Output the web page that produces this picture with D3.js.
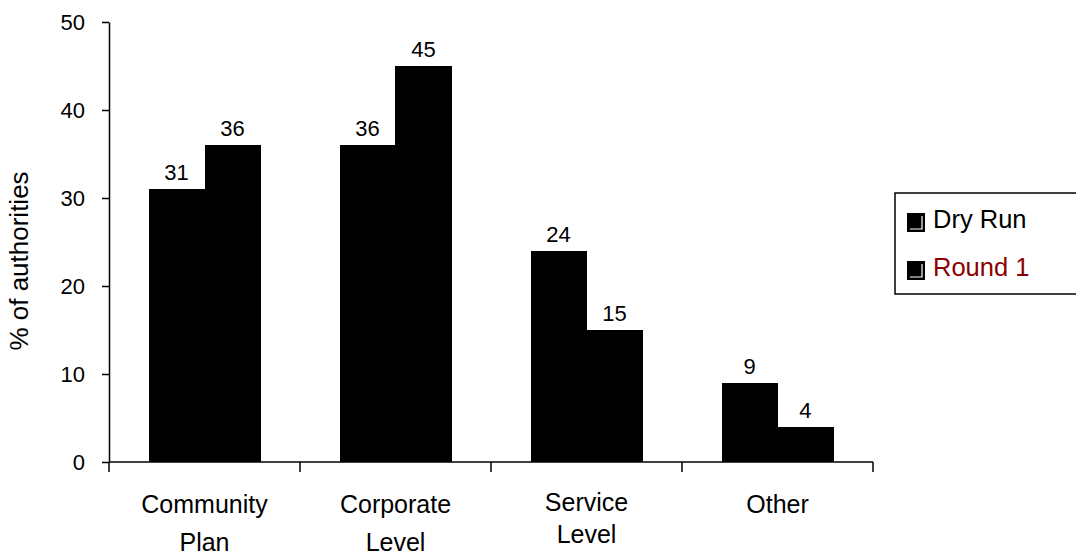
<!DOCTYPE html>
<html>
<head>
<meta charset="utf-8">
<script src="https://cdn.jsdelivr.net/npm/d3@7"></script>
<style>
  html, body { margin: 0; padding: 0; background: #fff; }
  svg { display: block; font-family: "Liberation Sans", Arial, sans-serif; }
</style>
</head>
<body>
<svg id="chart" width="1076" height="556"></svg>
<script>
// Category labels, one entry per line of text
const categories = ["Community Plan", "Corporate Level", "Service Level", "Other"];
const categoryLines = [["Community", "Plan"], ["Corporate", "Level"], ["Service", "Level"], ["Other"]];
const seriesNames = ["Dry Run", "Round 1"];
const dryRun = [31, 36, 24, 9];
const round1 = [36, 45, 15, 4];
const yTicks = [0, 10, 20, 30, 40, 50];

const svg = d3.select("#chart");
const plotLeft = 109, plotRight = 873, plotTop = 22, plotBottom = 462;

const x = d3.scaleBand().domain(categories).range([plotLeft, plotRight])
  .paddingInner(0.414).paddingOuter(0.207);
const xs = d3.scaleBand().domain(seriesNames).range([0, x.bandwidth()]).padding(0);
const y = d3.scaleLinear().domain([0, 50]).range([plotBottom, plotTop]);

const rows = categories.map((c, i) => ({ cat: c, vals: [dryRun[i], round1[i]] }));

// Bars
const groups = svg.append("g").selectAll("g").data(rows).join("g")
  .attr("transform", d => `translate(${x(d.cat)},0)`);

groups.selectAll("rect")
  .data(d => d.vals.map((v, j) => ({ name: seriesNames[j], v })))
  .join("rect")
  .attr("x", d => xs(d.name))
  .attr("y", d => y(d.v))
  .attr("width", xs.bandwidth() + 0.5)
  .attr("height", d => y(0) - y(d.v))
  .attr("fill", "#000")
  .attr("shape-rendering", "crispEdges");

// Value labels above each bar
groups.selectAll("text.val")
  .data(d => d.vals.map((v, j) => ({ name: seriesNames[j], v })))
  .join("text")
  .attr("class", "val")
  .attr("x", d => xs(d.name) + xs.bandwidth() / 2)
  .attr("y", d => y(d.v) - 9)
  .attr("text-anchor", "middle")
  .attr("font-size", 22)
  .attr("fill", "#000")
  .text(d => d.v);

// Y axis
const yAxis = d3.axisLeft(y).tickValues(yTicks).tickSize(7).tickSizeOuter(0).tickPadding(17);
const gy = svg.append("g").attr("transform", `translate(${plotLeft},0)`).call(yAxis);
gy.select(".domain").attr("stroke", "#000").attr("stroke-width", 1.5);
gy.selectAll(".tick line").attr("stroke", "#000").attr("stroke-width", 1.5);
gy.selectAll(".tick text").attr("font-size", 22).attr("fill", "#000")
  .attr("font-family", "Liberation Sans, Arial, sans-serif");

// X axis: baseline with ticks between categories
const step = x.step();
const boundaries = d3.range(categories.length + 1).map(i => plotLeft + i * step);
svg.append("line")
  .attr("x1", plotLeft).attr("x2", plotRight).attr("y1", plotBottom).attr("y2", plotBottom)
  .attr("stroke", "#000").attr("stroke-width", 1.5);
svg.append("g").selectAll("line").data(boundaries).join("line")
  .attr("x1", d => d).attr("x2", d => d)
  .attr("y1", plotBottom).attr("y2", plotBottom + 10)
  .attr("stroke", "#000").attr("stroke-width", 1.5);

// Category labels
const lineGap = [38, 38, 32, 38];
const cl = svg.append("g").selectAll("text").data(categories).join("text")
  .attr("text-anchor", "middle")
  .attr("font-size", 25)
  .attr("fill", "#000")
  .attr("transform", d => `translate(${x(d) + x.bandwidth() / 2},513)`);
cl.each(function (d, i) {
  d3.select(this).selectAll("tspan").data(categoryLines[i]).join("tspan")
    .attr("x", 0)
    .attr("y", (t, k) => k * lineGap[i] - (i === 2 ? 2 : 0))
    .text(t => t);
});

// Y axis title
svg.append("text")
  .attr("transform", "translate(28,261) rotate(-90)")
  .attr("text-anchor", "middle")
  .attr("font-size", 26)
  .attr("fill", "#000")
  .text("% of authorities");

// Legend
const legend = svg.append("g");
legend.append("rect")
  .attr("x", 895).attr("y", 193).attr("width", 200).attr("height", 101)
  .attr("fill", "#fff").attr("stroke", "#000").attr("stroke-width", 1.5);
const legendColors = ["#000", "#8b0000"];
const items = legend.selectAll("g.item").data(seriesNames).join("g")
  .attr("class", "item")
  .attr("transform", (d, i) => `translate(907,${213 + i * 48})`);
items.append("rect")
  .attr("width", 18).attr("height", 19).attr("fill", "#000");
items.append("polyline")
  .attr("points", "3,16 15,16 15,3")
  .attr("fill", "none").attr("stroke", "#fff").attr("stroke-width", 1.2);
items.append("text")
  .attr("x", 26).attr("y", 15)
  .attr("font-size", 25.5)
  .attr("fill", (d, i) => legendColors[i])
  .text(d => d);
</script>
</body>
</html>
